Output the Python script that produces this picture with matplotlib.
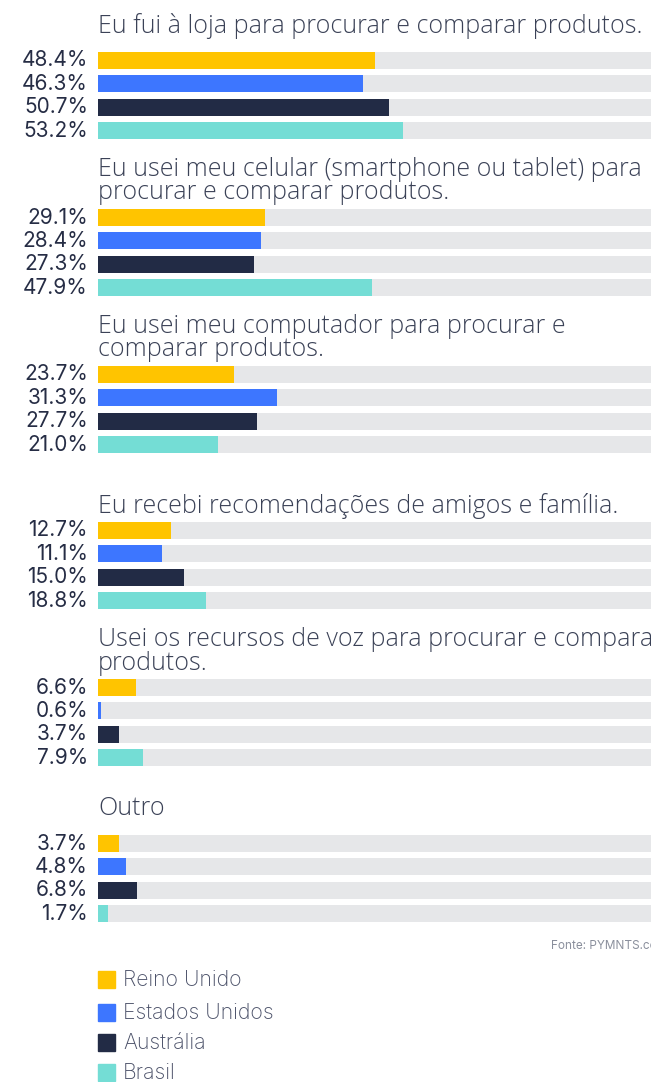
import matplotlib.pyplot as plt

questions = [
    ["Eu fui à loja para procurar e comparar produtos."],
    ["Eu usei meu celular (smartphone ou tablet) para", "procurar e comparar produtos."],
    ["Eu usei meu computador para procurar e", "comparar produtos."],
    ["Eu recebi recomendações de amigos e família."],
    ["Usei os recursos de voz para procurar e comparar", "produtos."],
    ["Outro"],
]
countries = ["Reino Unido", "Estados Unidos", "Austrália", "Brasil"]
reino_unido = [48.4, 29.1, 23.7, 12.7, 6.6, 3.7]
estados_unidos = [46.3, 28.4, 31.3, 11.1, 0.6, 4.8]
australia = [50.7, 27.3, 27.7, 15.0, 3.7, 6.8]
brasil = [53.2, 47.9, 21.0, 18.8, 7.9, 1.7]

colors = ["#FFC400", "#3D76FF", "#222B45", "#74DDD5"]
bg_color = "#E6E7E9"
title_color = "#3B4257"
label_color = "#262D45"

W, H = 651, 1082
fig = plt.figure(figsize=(W / 100, H / 100), dpi=100)

# pixel layout: top of first bar row and title baselines for each group
bar_tops = [52, 209, 366, 522, 679, 835]
title_base = [33, 176, 333, 513, 646, 815]
line_gap = 23.5
pitch = 23.4
bar_h = 17
left = 98
px_per_pct = 5.73

series = [reino_unido, estados_unidos, australia, brasil]

for g in range(len(questions)):
    top = bar_tops[g]
    total_h = pitch * 4
    gap = pitch - bar_h
    ax = fig.add_axes([left / W, 1 - (top - gap / 2 + total_h) / H,
                       100 * px_per_pct / W, total_h / H])
    vals = [s[g] for s in series]
    ypos = range(4)
    ax.barh(ypos, [100] * 4, height=bar_h / pitch, color=bg_color)
    ax.barh(ypos, vals, height=bar_h / pitch, color=colors)
    ax.set_xlim(0, 100)
    ax.set_ylim(3.5, -0.5)
    ax.axis("off")
    for i, v in enumerate(vals):
        ax.annotate(f"{v:.1f}%", xy=(0, i), xytext=(-10, 0), textcoords="offset pixels",
                    ha="right", va="center", fontsize=15, color=label_color,
                    family="Inter")
    for k, line in enumerate(questions[g]):
        fig.text(left / W, 1 - (title_base[g] + k * line_gap) / H, line, ha="left",
                 va="baseline", fontsize=18, color=title_color, family="Open Sans",
                 fontweight="light")

fig.text(551 / W, 1 - 946 / H, "Fonte: PYMNTS.com", ha="left", va="center",
         fontsize=8.5, color="#8A8F9C", family="Inter")

leg_y = [980, 1013, 1043, 1073]
for c, name, y in zip(colors, countries, leg_y):
    fig.patches.append(plt.Rectangle((98 / W, 1 - (y + 8) / H), 17 / W, 17 / H,
                                     transform=fig.transFigure, color=c))
    fig.text(123 / W, 1 - y / H, name, ha="left", va="center", fontsize=15.3,
             color="#4A5068", family="Inter", fontweight="light")

fig.savefig("out.png", dpi=100)
